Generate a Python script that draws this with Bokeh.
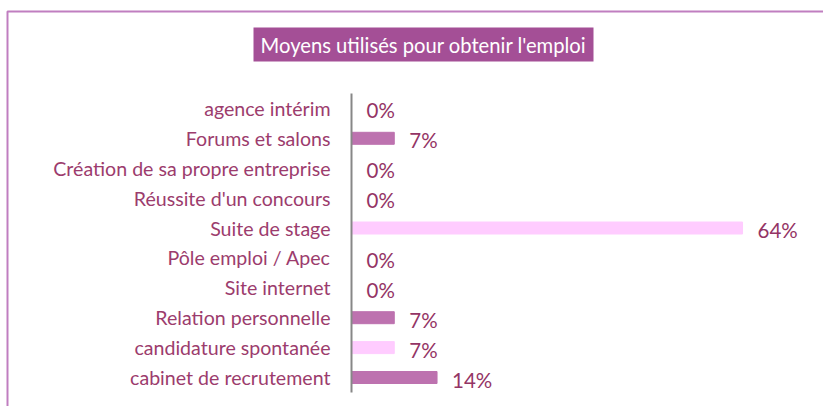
from bokeh.plotting import figure
from bokeh.models import Range1d, BoxAnnotation, ColumnDataSource
from bokeh.core.properties import value
from bokeh.embed import file_html
from bokeh.resources import INLINE

# ---- data (top to bottom as displayed) ----
categories = ["agence intérim", "Forums et salons", "Création de sa propre entreprise",
              "Réussite d'un concours", "Suite de stage", "Pôle emploi / Apec",
              "Site internet", "Relation personnelle", "candidature spontanée",
              "cabinet de recrutement"]
percent = [0, 7, 0, 0, 64, 0, 0, 7, 7, 14]
title_text = "Moyens utilisés pour obtenir l'emploi"

DARK = "#BD72AF"
LIGHT = "#FFCCFF"
LABEL_COL = "#9C3C6D"
VALUE_COL = "#943465"
FONT = "Lato"

W, H = 823, 406
axis_px = 351.0          # canvas x of the zero line
px_per_pct = 6.11
row_px = 29.9
bottom_row_px = 377.0    # canvas y of the last category centre

n = len(categories)
xs = -axis_px / px_per_pct
xe = (W - axis_px) / px_per_pct
ye = bottom_row_px / row_px
ys = -(H - bottom_row_px) / row_px

def px2x(px):
    return xs + px / px_per_pct

def px2y(py):
    return ye - py / row_px

# y position: index from bottom
ypos = [n - 1 - i for i in range(n)]
colors = [DARK if (n - 1 - i) % 2 == 0 else LIGHT for i in range(n)]
labels = [f"{v}%" for v in percent]

src = ColumnDataSource(dict(cat=categories, val=percent, y=ypos, color=colors, lab=labels))

p = figure(width=W, height=H, output_backend="svg", toolbar_location=None,
           x_range=Range1d(xs, xe), y_range=Range1d(ys, ye),
           min_border=0, min_border_left=0, min_border_right=0,
           min_border_top=0, min_border_bottom=0,
           x_axis_location=None, y_axis_location=None)
p.grid.visible = False
p.outline_line_color = None
p.background_fill_color = "white"
p.border_fill_color = "white"

# frame border (only top/left visible)
p.add_layout(BoxAnnotation(left=px2x(7), right=xe + 100, top=px2y(11), bottom=ys - 100,
                           fill_alpha=0, line_alpha=1.0, line_color="#C07EC0", line_width=2))

# bars
p.hbar(y="y", left=0, right="val", height=12 / row_px, color="color", source=src)

# zero axis line
p.segment(x0=[0], y0=[-0.5], x1=[0], y1=[n - 0.5], line_color="#878787", line_width=2)

# category labels
p.text(x=0, y="y", text="cat", source=src, x_offset=-21, text_align="right",
       text_baseline="middle", text_color=LABEL_COL, text_font=value(FONT),
       text_font_size="19.6px")

# value labels
p.text(x="val", y="y", text="lab", source=src, x_offset=15, y_offset=2, text_align="left",
       text_baseline="middle", text_color=VALUE_COL, text_font=value(FONT),
       text_font_size="20.5px")

# title box
cx, cy = px2x(423), px2y(44)
p.rect(x=[cx], y=[cy], width=340, height=34, width_units="screen", height_units="screen",
       fill_color="#A44F96", line_color=None)
p.text(x=[cx], y=[cy], text=[title_text], text_align="center", text_baseline="middle",
       text_color="white", text_font=value(FONT), text_font_size="20.2px")

open("out.html", "w").write(file_html(p, INLINE))
